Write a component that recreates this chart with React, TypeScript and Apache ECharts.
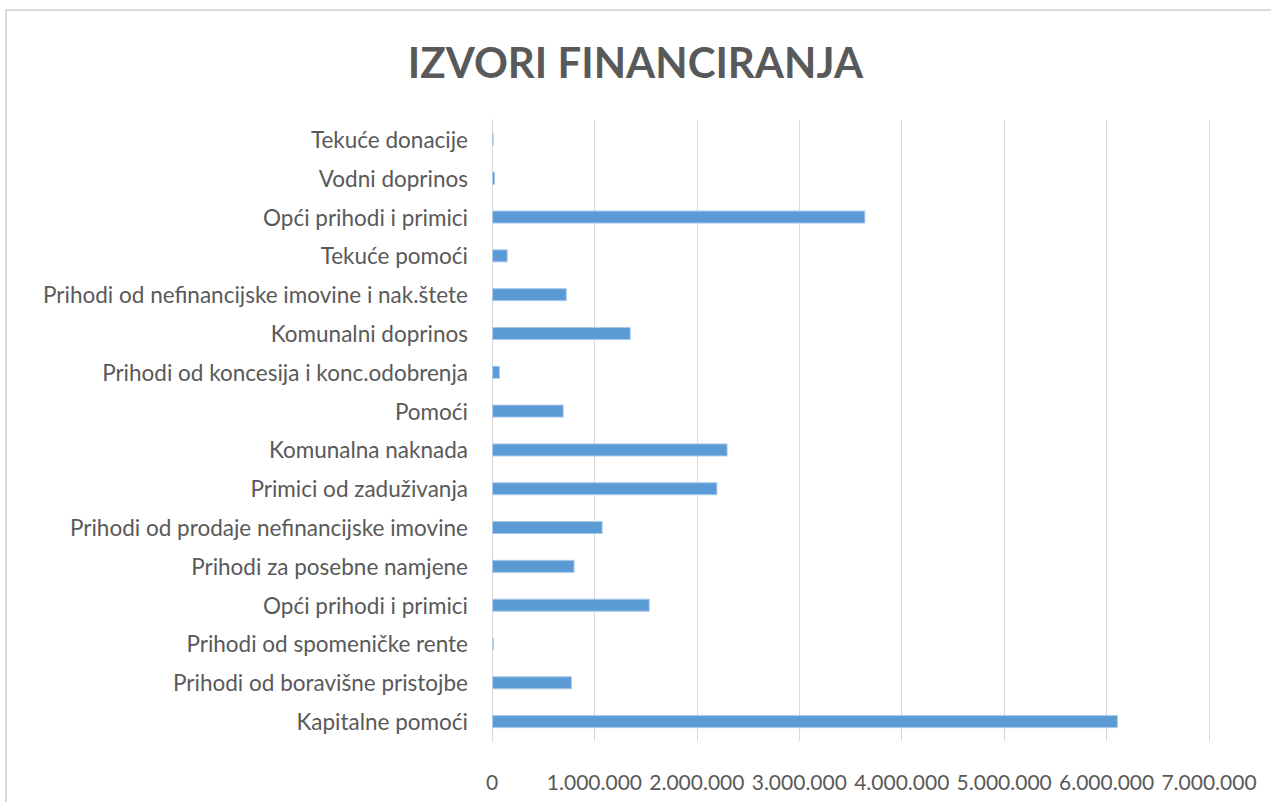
import React, { useEffect, useRef } from "react";
import * as echarts from "echarts";

const titleText = "IZVORI FINANCIRANJA";

// bottom to top
const categories = [
  "Kapitalne pomoći",
  "Prihodi od boravišne pristojbe",
  "Prihodi od spomeničke rente",
  "Opći prihodi i primici",
  "Prihodi za posebne namjene",
  "Prihodi od prodaje nefinancijske imovine",
  "Primici od zaduživanja",
  "Komunalna naknada",
  "Pomoći",
  "Prihodi od koncesija i konc.odobrenja",
  "Komunalni doprinos",
  "Prihodi od nefinancijske imovine i nak.štete",
  "Tekuće pomoći",
  "Opći prihodi i primici",
  "Vodni doprinos",
  "Tekuće donacije",
];

const values = [
  6110000, 780000, 17000, 1540000, 806000, 1080000, 2200000, 2300000, 700000,
  78000, 1354000, 730000, 153000, 3645000, 30000, 16000,
];

const xMin = 0;
const xMax = 7000000;
const xInterval = 1000000;

function fmt(v: number): string {
  return String(Math.round(v)).replace(/\B(?=(\d{3})+(?!\d))/g, ".");
}

export default function App() {
  const ref = useRef<HTMLDivElement>(null);
  useEffect(() => {
    if (!ref.current) return;
    const chart = echarts.init(ref.current, undefined, { renderer: "svg" });
    chart.setOption({
      animation: false,
      backgroundColor: "#ffffff",
      title: {
        text: titleText,
        left: "center",
        top: 36,
        textStyle: {
          fontFamily: "Lato",
          fontWeight: "bold",
          fontSize: 42,
          color: "#595959",
        },
      },
      graphic: [
        {
          type: "rect",
          shape: { x: 6, y: 10, width: 1300, height: 900 },
          style: { fill: "none", stroke: "#d9d9d9", lineWidth: 2 },
          silent: true,
        },
      ],
      grid: { left: 492, right: 62, top: 120, bottom: 61, containLabel: false },
      xAxis: {
        type: "value",
        min: xMin,
        max: xMax,
        interval: xInterval,
        axisLine: { show: false },
        axisTick: { show: false },
        splitLine: { show: true, lineStyle: { color: "#d9d9d9", width: 1 } },
        axisLabel: {
          formatter: (v: number) => fmt(v),
          fontFamily: "Lato",
          fontSize: 21,
          color: "#595959",
          margin: 30,
          hideOverlap: false,
        },
      },
      yAxis: {
        type: "category",
        data: categories,
        axisLine: { show: true, lineStyle: { color: "#d9d9d9", width: 1 } },
        axisTick: { show: false },
        axisLabel: {
          interval: 0,
          fontFamily: "Lato",
          fontSize: 22.5,
          color: "#595959",
          margin: 24,
          padding: [0, 0, 3, 0],
        },
      },
      series: [
        {
          type: "bar",
          data: values,
          barWidth: 13,
          itemStyle: { color: "#5b9bd5", borderColor: "#a9c8ea", borderWidth: 1 },
        },
      ],
    });
    return () => chart.dispose();
  }, []);
  return (
    <div
      ref={ref}
      style={{ position: "fixed", left: 0, top: 0, width: 1271, height: 802 }}
    />
  );
}
